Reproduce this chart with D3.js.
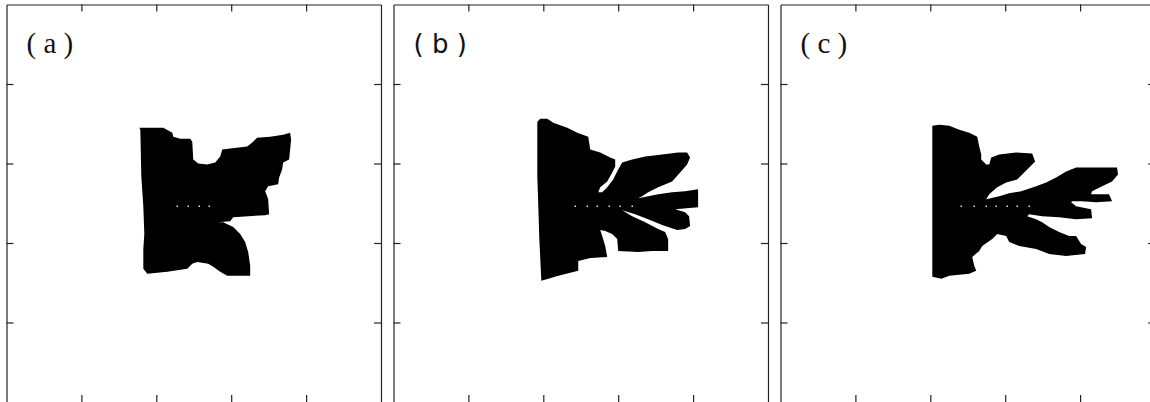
<!DOCTYPE html>
<meta charset="utf-8">
<html>
<head>
  <style>
    body { margin: 0; background: #fff; }
    svg { display: block; }
  </style>
  <script src="https://d3js.org/d3.v7.min.js"></script>
</head>
<body>
  <svg width="1150" height="402"></svg>
  <script>
    // lattice extent (sites) and tick positions
    var xTicks = [75, 150, 225, 300];
    var yTicks = [80, 160, 240, 320];

    var panelLabels = ["( a )", "( b )", "( c )"];

    // cluster outlines, [x, y] lattice sites, y measured downwards
    var clusterA = [
      [133,124],[157,124],[166,129],[167,133],[174,135],[184,135],[186,138],[187,156],
      [192,160],[201,161],[209,159],[214,153],[216,146],[224,145],[241,143],[247,138],
      [251,134],[264,133],[277,131],[284,129],[285,136],[283,156],[277,159],[276,166],
      [273,174],[272,181],[262,183],[259,188],[261,193],[262,196],[263,211],[259,212],
      [227,214],[224,218],[211,219],[217,219],[227,224],[234,231],[239,239],[242,249],
      [244,263],[244,273],[221,273],[214,269],[207,264],[202,261],[191,259],[186,261],
      [181,266],[161,269],[141,271],[137,266],[137,246],[138,231],[137,203],[135,173],
      [134,126]
    ];
    var clusterB = [
      [144,118],[147,115],[154,115],[160,119],[174,124],[184,129],[195,133],[197,146],
      [207,149],[217,154],[222,156],[222,163],[219,169],[214,178],[207,184],[205,189],
      [209,189],[214,184],[220,176],[225,166],[229,159],[239,156],[252,153],[269,151],
      [285,149],[294,149],[297,154],[294,161],[287,169],[279,178],[265,184],[255,189],
      [249,193],[245,195],[255,193],[265,191],[279,189],[292,188],[305,186],[305,204],
      [282,206],[292,209],[296,213],[297,223],[292,226],[284,227],[269,222],[255,216],
      [242,211],[229,207],[239,213],[252,219],[265,226],[272,229],[275,236],[275,248],
      [259,248],[245,249],[225,248],[224,236],[219,231],[212,228],[207,227],[209,233],
      [212,243],[214,254],[197,255],[185,258],[185,268],[177,270],[165,273],[155,276],
      [148,278],[147,256],[146,236],[145,203],[144,173]
    ];
    var clusterC = [
      [152,122],[159,121],[169,122],[179,126],[189,129],[197,133],[199,143],[201,151],
      [201,156],[206,161],[209,161],[211,154],[219,151],[236,149],[252,150],[255,158],
      [249,164],[244,169],[237,176],[226,179],[217,184],[209,191],[206,196],[219,193],
      [229,190],[241,188],[256,183],[266,179],[276,174],[286,168],[296,164],[337,164],
      [338,171],[332,178],[322,183],[312,188],[311,191],[329,191],[332,198],[316,199],
      [302,198],[292,198],[291,199],[296,203],[311,206],[312,215],[296,216],[279,214],
      [262,213],[249,211],[247,213],[256,216],[262,219],[269,224],[279,229],[289,233],
      [296,233],[301,241],[306,244],[305,251],[286,253],[269,251],[256,246],[239,243],
      [229,239],[226,233],[217,231],[212,236],[202,243],[199,248],[192,254],[194,263],
      [196,268],[189,271],[169,273],[161,276],[152,274]
    ];

    // unbroken seed bonds along the initial notch (row 203)
    var seedRow = 203;
    var seedA = [171, 182, 193, 203];
    var seedB = [182, 194, 204, 216, 227, 239];
    var seedC = [181, 194, 206, 216, 227, 237, 249];

    var panels = [
      { label: panelLabels[0], shape: clusterA, seeds: seedA, left: 6.5,   font: "'Liberation Serif', serif", size: 29 },
      { label: panelLabels[1], shape: clusterB, seeds: seedB, left: 393.5, font: "'DejaVu Sans', sans-serif", size: 26 },
      { label: panelLabels[2], shape: clusterC, seeds: seedC, left: 780.5, font: "'Liberation Serif', serif", size: 29 }
    ];

    var svg = d3.select("svg");
    var pw = 374.5, frameTop = 4.5, frameBottom = 402;
    var tick = 7;

    panels.forEach(function(p) {
      var x = d3.scaleLinear().domain([0, 375]).range([p.left, p.left + pw]);
      var y = d3.scaleLinear().domain([0, 400]).range([frameTop, frameBottom]);

      var g = svg.append("g");

      var line = d3.line()
        .x(function(d) { return x(d[0]); })
        .y(function(d) { return y(d[1]); })
        .curve(d3.curveLinearClosed);

      g.append("path")
        .attr("d", line(p.shape))
        .attr("fill", "#000");

      g.selectAll(".seed")
        .data(p.seeds)
        .enter().append("rect")
          .attr("class", "seed")
          .attr("x", function(d) { return x(d) - 0.7; })
          .attr("y", y(seedRow) - 0.7)
          .attr("width", 1.4)
          .attr("height", 1.4)
          .attr("fill", "#fff");

      // frame with inward ticks, no labels
      var axes = [
        { ax: d3.axisTop(x), t: "translate(0," + frameTop + ")" },
        { ax: d3.axisBottom(x), t: "translate(0," + frameBottom + ")" },
        { ax: d3.axisLeft(y), t: "translate(" + p.left + ",0)" },
        { ax: d3.axisRight(y), t: "translate(" + (p.left + pw) + ",0)" }
      ];
      axes.forEach(function(a, i) {
        var vals = i < 2 ? xTicks : yTicks;
        var ag = g.append("g")
          .attr("transform", a.t)
          .call(a.ax.tickValues(vals).tickSizeInner(-tick).tickSizeOuter(0).tickFormat(""));
        ag.selectAll("path, line").attr("stroke", "#222").attr("stroke-width", 1.2);
      });

      g.append("text")
        .attr("x", p.left + 20)
        .attr("y", 53)
        .style("font-family", p.font)
        .style("font-size", p.size + "px")
        .attr("fill", "#111")
        .text(p.label);
    });
  </script>
</body>
</html>
